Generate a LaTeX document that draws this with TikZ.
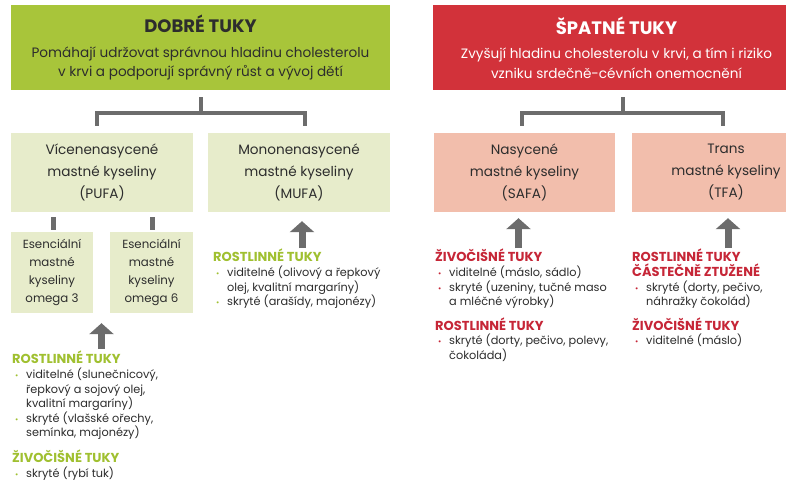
\documentclass[tikz,border=0pt]{standalone}
\usepackage{fontspec}
\setmainfont{Poppins}
\usetikzlibrary{arrows.meta,calc}
\definecolor{ghead}{RGB}{168,197,58}
\definecolor{glight}{RGB}{231,236,203}
\definecolor{rhead}{RGB}{210,50,58}
\definecolor{rlight}{RGB}{242,190,172}
\definecolor{gtxt}{RGB}{160,192,48}
\definecolor{rtxt}{RGB}{198,38,55}
\definecolor{conn}{RGB}{108,108,108}
\definecolor{txt}{RGB}{45,45,45}
\newcommand{\gbul}{\hspace*{3pt}\makebox[11pt][l]{\textcolor{gtxt}{\fontsize{8}{8}\selectfont\textbullet}}}
\newcommand{\rbul}{\hspace*{3pt}\makebox[11pt][l]{\textcolor{rtxt}{\fontsize{8}{8}\selectfont\textbullet}}}
\newcommand{\hind}{\hspace*{14pt}}
\newcommand{\greenhd}[1]{\textcolor{gtxt}{\fontsize{13}{14.5}\selectfont\bfseries #1}}
\newcommand{\redhd}[1]{\textcolor{rtxt}{\fontsize{13}{14.5}\selectfont\bfseries #1}}
\begin{document}
\begin{tikzpicture}[x=1pt,y=-1pt,
  hdr/.style={inner sep=0pt, align=center, text=txt, minimum height=85pt,
    font=\fontsize{13.6}{19.5}\selectfont},
  sbox/.style={inner sep=0pt, align=center, text=txt, minimum height=79pt,
    font=\fontsize{13.6}{22}\selectfont},
  obox/.style={inner sep=0pt, align=center, text=txt, fill=glight, minimum height=81pt,
    font=\fontsize{11.8}{18.3}\selectfont},
  tblock/.style={anchor=north west, inner sep=0pt, align=left, text=txt,
    font=\fontsize{11.3}{14.6}\selectfont},
  brk/.style={draw=conn, line width=4pt},
  stub/.style={draw=conn, line width=5pt},
  arr/.style={draw=conn, line width=7pt, -{Triangle[width=24pt,length=11pt]}}
]
\path[use as bounding box, clip] (0,0) rectangle (786,483);
\fill[white] (0,0) rectangle (786,483);

% headers
\node[hdr, fill=ghead, minimum width=379pt] (gh) at (200.5,47.5)
  {{\fontsize{18}{19.5}\selectfont\bfseries DOBRÉ TUKY}\\[5pt]
   Pomáhají udržovat správnou hladinu cholesterolu\\
   v krvi a podporují správný růst a vývoj dětí};
\node[hdr, fill=rhead, minimum width=367pt, text=white] (rh) at (616.5,47.5)
  {{\fontsize{18}{19.5}\selectfont\bfseries ŠPATNÉ TUKY}\\[5pt]
   Zvyšují hladinu cholesterolu v krvi, a tím i riziko\\
   vzniku srdečně-cévních onemocnění};

% second level
\node[sbox, fill=glight, minimum width=182pt] (pufa) at (102,172.5)
  {Vícenenasycené\\mastné kyseliny\\(PUFA)};
\node[sbox, fill=glight, minimum width=182pt] (mufa) at (299,172.5)
  {Mononenasycené\\mastné kyseliny\\(MUFA)};
\node[sbox, fill=rlight, minimum width=181pt] (safa) at (524.5,172.5)
  {Nasycené\\mastné kyseliny\\(SAFA)};
\node[sbox, fill=rlight, minimum width=188pt] (tfa) at (726,172.5)
  {Trans\\mastné kyseliny\\(TFA)};

% omega boxes
\node[obox, minimum width=82pt] (om3) at (52,272.5)
  {Esenciální\\mastné\\kyseliny\\omega 3};
\node[obox, minimum width=83pt] (om6) at (151.5,272.5)
  {Esenciální\\mastné\\kyseliny\\omega 6};

% brackets
\draw[brk] ($(gh.south)+(0,7)$) -- ($(gh.south)+(0,23)$);
\draw[brk] ($(pufa.north)+(-5,-7)$) |- ($(gh.south)+(0,23)$) -| ($(mufa.north)+(6,-7)$);
\draw[brk] ($(rh.south)+(6.5,7)$) -- ($(rh.south)+(6.5,23)$);
\draw[brk] ($(safa.north)+(-2.5,-7)$) |- ($(rh.south)+(6.5,23)$) -| ($(tfa.north)+(-3,-7)$);
\draw[stub] ($(om3.north)+(1,-2)$) -- ($(om3.north|-pufa.south)+(1,5)$);
\draw[stub] ($(om6.north)+(0.5,-2)$) -- ($(om6.north|-pufa.south)+(0.5,5)$);

% text blocks
\node[tblock] (lt) at (12,351)
  {\greenhd{ROSTLINNÉ TUKY}\\
   \gbul viditelné (slunečnicový,\\
   \hind řepkový a sojový olej,\\
   \hind kvalitní margaríny)\\
   \gbul skryté (vlašské ořechy,\\
   \hind semínka, majonézy)\\[9pt]
   \greenhd{ŽIVOČIŠNÉ TUKY}\\
   \gbul skryté (rybí tuk)};
\node[tblock] (mt) at (213,249)
  {\greenhd{ROSTLINNÉ TUKY}\\
   \gbul viditelné (olivový a řepkový\\
   \hind olej, kvalitní margaríny)\\
   \gbul skryté (arašídy, majonézy)};
\node[tblock] (st) at (435,249)
  {\redhd{ŽIVOČIŠNÉ TUKY}\\
   \rbul viditelné (máslo, sádlo)\\
   \rbul skryté (uzeniny, tučné maso\\
   \hind a mléčné výrobky)\\[8pt]
   \redhd{ROSTLINNÉ TUKY}\\
   \rbul skryté (dorty, pečivo, polevy,\\
   \hind čokoláda)};
\node[tblock] (tt) at (632,249)
  {\redhd{ROSTLINNÉ TUKY}\\
   \redhd{ČÁSTEČNĚ ZTUŽENÉ}\\
   \rbul skryté (dorty, pečivo,\\
   \hind náhražky čokolád)\\[8pt]
   \redhd{ŽIVOČIŠNÉ TUKY}\\
   \rbul viditelné (máslo)};

% arrows from text blocks up to boxes
\draw[arr] ($(om3.south east)!0.5!(om6.south west)+(0,36)$) -- ($(om3.south east)!0.5!(om6.south west)+(0,10)$);
\draw[arr] ($(mufa.south)+(3,36)$) -- ($(mufa.south)+(3,9)$);
\draw[arr] ($(safa.south)+(-6,36)$) -- ($(safa.south)+(-6,6)$);
\draw[arr] ($(tfa.south)+(2,36)$) -- ($(tfa.south)+(2,6)$);
\end{tikzpicture}
\end{document}
